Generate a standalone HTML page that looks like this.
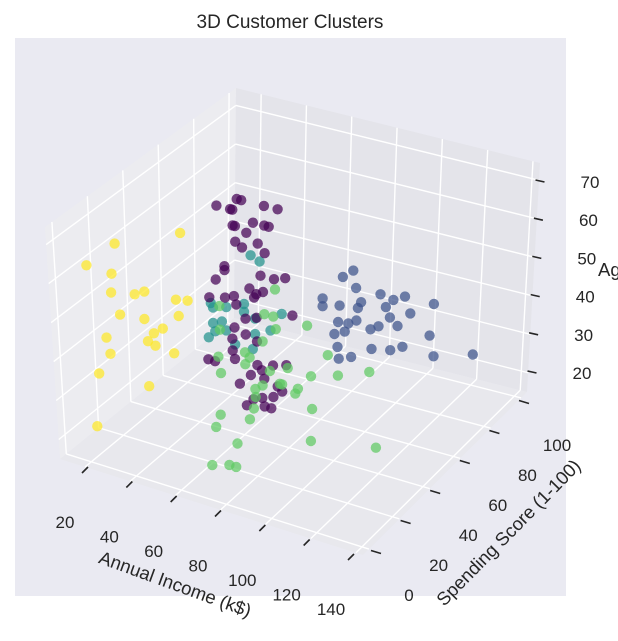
<!DOCTYPE html>
<html><head><meta charset="utf-8"><style>
html,body{margin:0;padding:0;background:#fff;}
svg text{font-family:"Liberation Sans",Arial,sans-serif;fill:#262626;}
</style></head><body>
<svg id="chart" width="618" height="636" viewBox="0 0 618 636" xmlns="http://www.w3.org/2000/svg">
<rect x="15" y="38" width="551" height="558" fill="#EAEAF2"/>
<g id="panes"></g><g id="grid"></g><g id="ticks"></g><g id="points"></g>
<text x="290" y="28" text-anchor="middle" font-size="19">3D Customer Clusters</text>
<text x="0" y="0" font-size="18.5" text-anchor="middle" transform="translate(173,590) rotate(20)">Annual Income (k$)</text>
<text x="0" y="0" font-size="18.5" text-anchor="middle" transform="translate(513,537) rotate(-45.5)">Spending Score (1-100)</text>
<text x="598" y="276" font-size="18.5">Age</text>
</svg>
<script>
const incomeTicks=[20,40,60,80,100,120,140];
const spendTicks=[0,20,40,60,80,100];
const ageTicks=[20,30,40,50,60,70];
const clusterColors=["#440154","#3b528b","#21918c","#5ec962","#fde725"];
const purple=[[51,50,70],[53,50,70],[42,50,67],[48,50,67],[49,50,67],[63,50,70],[69,50,70],[49,50,63],[50,50,63],[58,50,65],[63,50,65],[65,50,65],[55,50,62],[50,50,59],[53,50,58],[60,50,60],[63,50,58],[45,50,52],[45,50,51],[41,50,48],[61,50,52],[72,50,53],[67,50,52],[38,50,43],[45,50,44],[49,50,45],[56,50,48],[59,50,47],[62,50,48],[50,50,43],[58,50,46],[75,50,44],[59,50,41],[54,50,40],[49,50,37],[54,50,36],[48,50,34],[59,50,35],[48,50,31],[37,50,27],[40,50,27],[49,50,29],[59,50,29],[66,50,30],[72,50,31],[61,50,28],[56,50,26],[62,50,26],[51,50,23],[68,50,25],[57,50,20],[61,50,21],[66,50,22],[62,50,19],[65,50,19],[54,50,18],[70,50,24]];
const blue=[[69,95,39],[68,90,39],[74,90,37],[70,75,39],[85,90,37],[70,75,37],[74,80,36],[75,90,32],[80,85,36],[89,88,35],[98,80,41],[78,80,32],[77,75,34],[78,85,31],[88,85,31],[88,80,32],[93,90,30],[80,75,32],[79,70,33],[93,85,34],[109,90,38],[111,85,32],[79,72,29],[90,78,28],[83,75,26],[97,80,28],[81,70,27],[113,85,27],[132,83,31],[106,75,32],[96,90,38],[100,88,35]];
const teal=[[17,80,27],[23,80,28],[31,80,30],[31,80,28],[48,80,30],[38,80,42],[34,80,43],[17,80,23],[21,80,24],[18,80,21],[23,80,22],[36,80,27],[43,80,25],[36,80,23],[27,80,19],[35,80,19],[15,80,19],[16,80,28]];
const green=[[75,40,54],[50,40,46],[70,40,47],[74,40,47],[89,40,47],[75,40,44],[50,40,40],[69,40,40],[49,40,33],[98,40,41],[61,40,36],[63,40,35],[61,40,33],[72,40,33],[80,40,35],[50,40,29],[109,15,46],[121,15,48],[135,15,51],[95,15,42],[103,15,42],[84,15,39],[85,18,39],[96,15,42],[104,12,42],[84,15,37],[83,15,34],[109,15,38],[68,15,30],[68,12,28],[81,15,31],[75,15,24],[108,15,30],[137,15,33],[67,10,19],[71,15,18],[74,15,18]];
const yellow=[[20,20,64],[15,10,61],[35,38,63],[18,20,56],[24,25,50],[19,18,52],[26,28,50],[33,37,46],[39,36,47],[29,34,39],[21,20,46],[24,30,42],[34,37,42],[28,30,39],[16,18,40],[33,35,33],[19,16,37],[15,14,32],[25,30,25],[16,10,20],[26,29,37],[27,32,35]];
const clusters=[purple,blue,teal,green,yellow];

const NS="http://www.w3.org/2000/svg";
const XL=[8.9,143.1], YL=[-3.9,103.9], ZL=[15,74.5];
const C={c000:[60,459],c100:[363,555],c010:[234,318],c110:[527,392],
         c001:[45,227],c101:[352,304],c011:[236,88],c111:[540,163]};
function lerp(a,b,t){return [a[0]+(b[0]-a[0])*t,a[1]+(b[1]-a[1])*t];}
function P(u,v,w){
  const b0=lerp(lerp(C.c000,C.c100,u),lerp(C.c010,C.c110,u),v);
  const b1=lerp(lerp(C.c001,C.c101,u),lerp(C.c011,C.c111,u),v);
  return lerp(b0,b1,w);
}
const nu=x=>(x-XL[0])/(XL[1]-XL[0]);
const nv=y=>(y-YL[0])/(YL[1]-YL[0]);
const nw=z=>(z-ZL[0])/(ZL[1]-ZL[0]);
function proj(x,y,z){return P(nu(x),nv(y),nw(z));}
function mk(tag,attrs,parent){const e=document.createElementNS(NS,tag);for(const k in attrs)e.setAttribute(k,attrs[k]);parent.appendChild(e);return e;}
const panes=document.getElementById('panes'),grid=document.getElementById('grid'),ticks=document.getElementById('ticks'),pts=document.getElementById('points');
function poly(list,fill,name){
  const e=mk('polygon',{points:list.map(p=>p.join(',')).join(' '),fill:fill},panes);
  
  
}
poly([C.c000,C.c010,C.c011,C.c001],'#ECECF0','left-pane');
poly([C.c010,C.c110,C.c111,C.c011],'#E4E4EA','back-pane');
poly([C.c000,C.c100,C.c110,C.c010],'#E8E8ED','floor-pane');
function gl(a,b,name){
  const e=mk('line',{x1:a[0],y1:a[1],x2:b[0],y2:b[1],stroke:'#fff','stroke-width':1.4},grid);
  
  
}
incomeTicks.forEach(t=>{const u=nu(t);gl(P(u,1,0),P(u,1,1),'grid-x-back');gl(P(u,0,0),P(u,1,0),'grid-x-floor');});
spendTicks.forEach(t=>{const v=nv(t);gl(P(0,v,0),P(0,v,1),'grid-y-left');gl(P(0,v,0),P(1,v,0),'grid-y-floor');});
ageTicks.forEach(t=>{const w=nw(t);gl(P(0,0,w),P(0,1,w),'grid-z-left');gl(P(0,1,w),P(1,1,w),'grid-z-back');});
function tickAxis(vals,lo,hi,a,b){return v=>lerp(a,b,(v-lo)/(hi-lo));}
const xT=tickAxis(incomeTicks,20,140,[85,470],[351,557]);
const yT=tickAxis(spendTicks,0,100,[376,552],[524,402]);
const zT=tickAxis(ageTicks,20,70,[532,372],[540,181]);
function tick(c,dx,dy,lx,ly,label,name){
  const l=mk('line',{x1:c[0]-dx,y1:c[1]-dy,x2:c[0]+dx,y2:c[1]+dy,stroke:'#262626','stroke-width':1.6},ticks);
  
  
  const t=mk('text',{x:c[0]+lx,y:c[1]+ly+6,'text-anchor':'middle','font-size':17},ticks);
  t.textContent=label;
  
  
}
incomeTicks.forEach(v=>tick(xT(v),-3,3,-20,52,v,'x'));
spendTicks.forEach(v=>tick(yT(v),5,1.5,33,43,v,'y'));
ageTicks.forEach(v=>tick(zT(v),4.5,1,50,1,v,'z'));
const all=[];
clusters.forEach((arr,ci)=>arr.forEach(p=>{
  const d=0.433*nu(p[0])-0.75*nv(p[1])+0.5*nw(p[2])*0.75;
  all.push({p:p,c:ci,d:d});
}));
all.sort((a,b)=>a.d-b.d);
all.forEach(o=>{
  const s=proj(o.p[0],o.p[1],o.p[2]);
  const e=mk('circle',{cx:s[0].toFixed(1),cy:s[1].toFixed(1),r:5.2,fill:clusterColors[o.c],'fill-opacity':0.72},pts);
  
  
});
</script>
</body></html>
